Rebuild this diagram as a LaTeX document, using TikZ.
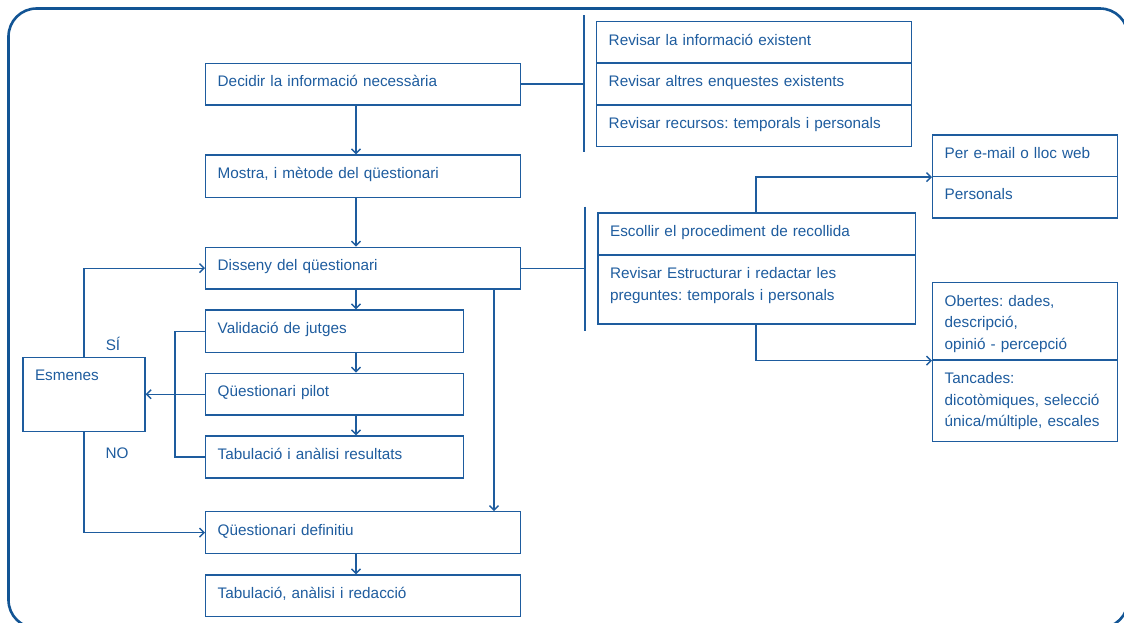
\documentclass[tikz,border=0pt]{standalone}
\usepackage{fontspec}
\setmainfont{Liberation Sans}
\usetikzlibrary{arrows.meta}
\frenchspacing

\definecolor{flow}{RGB}{30,92,158}
\definecolor{framec}{RGB}{18,84,148}

\tikzset{
  box/.style={draw=flow, line width=1.4pt, anchor=north west, inner xsep=12pt,
    inner ysep=0pt, text height=23.5pt, align=left, text=flow},
  con/.style={draw=flow, line width=1.4pt},
  arr/.style={con, -{Straight Barb[length=4.5pt,width=9pt]}},
  bar/.style={draw=flow, line width=1.8pt},
  tag/.style={text=flow, inner sep=0pt}
}

\begin{document}
\begin{tikzpicture}[x=1pt,y=-1pt,font=\fontsize{15.3}{21.5}\selectfont]
\useasboundingbox (0,0) rectangle (1124,622);
\draw[framec, line width=2.6pt, rounded corners=28pt] (8.5,8.5) rectangle (1128,628);

% columns for the vertical connectors
\coordinate (cx) at (356,0);
\coordinate (dx) at (494,0);
\coordinate (bx) at (175,0);
\coordinate (ax) at (756,0);

% main column
\node[box, text width=291pt, text depth=18pt] (dec) at (205,62.7) {Decidir la informació necessària};
\node[box, text width=291pt, text depth=18.9pt] (mos) at (205,154.3) {Mostra, i mètode del qüestionari};
\node[box, text width=291pt, text depth=18.1pt] (dis) at (205,246.7) {Disseny del qüestionari};
\node[box, text width=234pt, text depth=18.9pt] (val) at (205,309.3) {Validació de jutges};
\node[box, text width=234pt, text depth=18.1pt] (pil) at (205,372.7) {Qüestionari pilot};
\node[box, text width=234pt, text depth=18.5pt] (tab) at (205,435.3) {Tabulació i anàlisi resultats};
\node[box, text width=291pt, text depth=18.2pt] (def) at (205,511) {Qüestionari definitiu};
\node[box, text width=291pt, text depth=18.2pt] (fin) at (205,574.3) {Tabulació, anàlisi i redacció};
\node[box, text width=98pt, text depth=50.8pt] (esm) at (22.3,356.7) {Esmenes};
\node[tag] (si) at (113,344) {SÍ};
\node[tag] (no) at (117,453) {NO};

% first group on the right
\node[box, text width=290.7pt, text depth=17.8pt] (inf) at (596,21) {Revisar la informació existent};
\node[box, text width=290.7pt, text depth=18.5pt] (enq) at (596,62.3) {Revisar altres enquestes existents};
\node[box, text width=290.7pt, text depth=18.2pt] (rec) at (596,104.3) {Revisar recursos: temporals i personals};

% second group
\node[box, text width=293.2pt, text depth=18.5pt] (esc) at (597.4,212.3) {Escollir el procediment de recollida};
\node[box, text width=293.2pt, text depth=45.5pt] (red) at (597.4,254.3) {Revisar Estructurar i redactar les\\preguntes: temporals i personals};
\node[box, text width=161pt, text depth=17.9pt] (mail) at (932,134.3) {Per e-mail o lloc web};
\node[box, text width=161pt, text depth=18.1pt] (per) at (932,175.7) {Personals};
\node[box, text width=161pt, text depth=53.8pt] (obe) at (932,282) {Obertes: dades,\\descripció,\\opinió - percepció};
\node[box, text width=161pt, text depth=58.2pt] (tan) at (932,359.3) {Tancades:\\dicotòmiques, selecció\\única/múltiple, escales};

% brackets
\coordinate (b1t) at (584,15);
\coordinate (b1b) at (584,151.7);
\coordinate (b2t) at (585,206.7);
\coordinate (b2b) at (585,330.7);
\draw[bar] (b1t) -- (b1b);
\draw[bar] (b2t) -- (b2b);
\draw[con] (dec.east) -- (dec.east -| b1t);
\draw[con] (dis.east) -- (dis.east -| b2t);

% arrows down the main column
\draw[arr] (dec.south -| cx) -- (mos.north -| cx);
\draw[arr] (mos.south -| cx) -- (dis.north -| cx);
\draw[arr] (dis.south -| cx) -- (val.north -| cx);
\draw[arr] (val.south -| cx) -- (pil.north -| cx);
\draw[arr] (pil.south -| cx) -- (tab.north -| cx);
\draw[arr] (def.south -| cx) -- (fin.north -| cx);
\draw[arr] (dis.south -| dx) -- (def.north -| dx);

% loop through the amendments
\draw[con] (val.west) -- (val.west -| bx) -- (tab.west -| bx) -- (tab.west);
\draw[arr] (pil.west) -- (esm.east |- pil.west);
\draw[arr] (esm.north) |- (dis.west);
\draw[arr] (esm.south) |- (def.west);

% right branches
\draw[arr] (esc.north -| ax) |- (mail.south west);
\draw[arr] (red.south -| ax) |- (obe.south west);
\end{tikzpicture}
\end{document}
